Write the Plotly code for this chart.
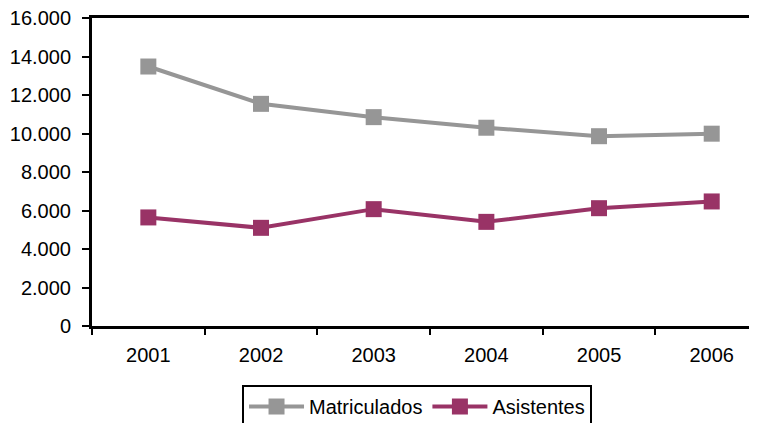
import plotly.graph_objects as go

years = ["2001", "2002", "2003", "2004", "2005", "2006"]
matriculados = [13480, 11540, 10850, 10300, 9860, 9990]
asistentes = [5640, 5100, 6070, 5410, 6120, 6470]

font_family = "Liberation Sans, Arial, sans-serif"

fig = go.Figure()
fig.add_trace(go.Scatter(
    x=years, y=matriculados, name="Matriculados", mode="lines+markers",
    line=dict(color="#969696", width=4),
    marker=dict(symbol="square", size=16, color="#969696"),
))
fig.add_trace(go.Scatter(
    x=years, y=asistentes, name="Asistentes", mode="lines+markers",
    line=dict(color="#993366", width=4),
    marker=dict(symbol="square", size=16, color="#993366"),
))

# page body has an 8px default margin, so the figure is sized/offset to compensate
fig.update_layout(
    template="none",
    width=749, height=415,
    margin=dict(l=84, r=0, t=10, b=97, autoexpand=False),
    paper_bgcolor="white", plot_bgcolor="white",
    separators=",.",
    font=dict(family=font_family, size=20, color="black"),
    showlegend=True,
    legend=dict(
        orientation="h", x=0.2256, xanchor="left", y=-0.1916, yanchor="top",
        bordercolor="black", borderwidth=2, bgcolor="white",
        font=dict(size=20, family=font_family, color="black"),
        traceorder="normal", itemwidth=55,
    ),
    xaxis=dict(
        type="category", range=[-0.5, 5.402], automargin=False,
        showline=True, linecolor="black", linewidth=3, mirror=True,
        ticks="outside", tickson="boundaries", ticklen=6, tickwidth=2, tickcolor="black",
        showgrid=False, zeroline=False, ticklabelstandoff=9,
        tickfont=dict(size=20, color="black"), ticklabeloverflow="allow",
    ),
    yaxis=dict(
        range=[0, 16000], dtick=2000, tickformat=",", automargin=False,
        showline=True, linecolor="black", linewidth=3,
        ticks="outside", ticklen=7, tickwidth=2, tickcolor="black",
        showgrid=False, zeroline=False, ticklabelstandoff=7,
        tickfont=dict(size=20, color="black"), ticklabeloverflow="allow",
    ),
)

fig.write_html("out.html")
